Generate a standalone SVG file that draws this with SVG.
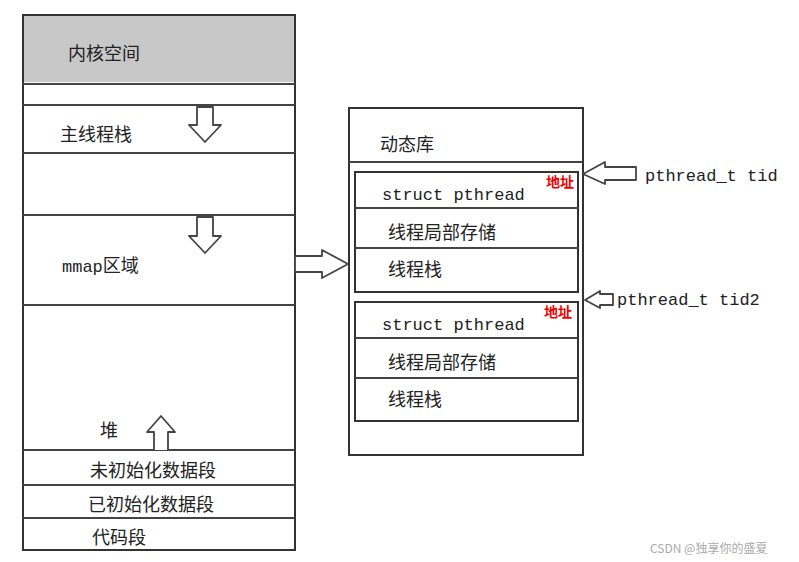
<svg xmlns="http://www.w3.org/2000/svg" width="799" height="562" viewBox="0 0 799 562">
<style>
.b{fill:none;stroke:#333;stroke-width:2}
.l{stroke:#444;stroke-width:2}
.a{fill:#fff;stroke:#444;stroke-width:1.8;stroke-linejoin:round}
.t{font-family:"Noto Sans CJK SC",sans-serif;font-size:18px;fill:#222}
.m{font-family:"Liberation Mono","Noto Sans CJK SC",monospace;font-size:17px;fill:#222}
.r{font-family:"Noto Sans CJK SC",sans-serif;font-size:14px;font-weight:bold;fill:#e00}
.w{font-family:"Noto Sans CJK SC",sans-serif;font-size:12px;fill:#aaa}
</style>
<rect width="799" height="562" fill="#fff"/>
<g id="mem">
<rect x="23" y="15" width="272" height="67" fill="#c8c8c8"/>
<rect x="23" y="15" width="272" height="535" class="b"/>
<line x1="23" y1="84" x2="295" y2="84" class="l"/>
<line x1="23" y1="105" x2="295" y2="105" class="l"/>
<line x1="23" y1="153" x2="295" y2="153" class="l"/>
<line x1="23" y1="215" x2="295" y2="215" class="l"/>
<line x1="23" y1="305" x2="295" y2="305" class="l"/>
<line x1="23" y1="450" x2="295" y2="450" class="l"/>
<line x1="23" y1="485" x2="295" y2="485" class="l"/>
<line x1="23" y1="518" x2="295" y2="518" class="l"/>
<text x="68" y="60" class="t">内核空间</text>
<text x="60" y="141" class="t">主线程栈</text>
<text x="62" y="272" class="m">mmap<tspan class="t">区域</tspan></text>
<text x="100" y="437" class="t">堆</text>
<text x="90" y="477" class="t">未初始化数据段</text>
<text x="88" y="511" class="t">已初始化数据段</text>
<text x="92" y="544" class="t">代码段</text>
</g>
<g id="lib">
<rect x="349" y="108" width="234" height="347" class="b"/>
<line x1="349" y1="162" x2="583" y2="162" class="l"/>
<text x="380" y="151" class="t">动态库</text>
</g>
<g id="thread1">
<rect x="355" y="172" width="223" height="120" class="b"/>
<line x1="355" y1="208" x2="578" y2="208" class="l"/>
<line x1="355" y1="248" x2="578" y2="248" class="l"/>
<text x="382" y="200" class="m">struct pthread</text>
<text x="388" y="239" class="t">线程局部存储</text>
<text x="388" y="276" class="t">线程栈</text>
<text x="546" y="187" class="r">地址</text>
</g>
<g id="thread2">
<rect x="355" y="302" width="223" height="119" class="b"/>
<line x1="355" y1="338" x2="578" y2="338" class="l"/>
<line x1="355" y1="378" x2="578" y2="378" class="l"/>
<text x="382" y="330" class="m">struct pthread</text>
<text x="388" y="369" class="t">线程局部存储</text>
<text x="388" y="406" class="t">线程栈</text>
<text x="544" y="317" class="r">地址</text>
</g>
<text x="645" y="181" class="m">pthread_t tid</text>
<text x="617" y="305" class="m">pthread_t tid2</text>
<text x="650" y="553" class="w">CSDN @独享你的盛夏</text>
<g id="connectors">
<path class="a" d="M197,107 H213 V125 H221 L205,142 L189,125 H197 Z"/>
<path class="a" d="M197,217 H213 V236 H221 L205,253 L189,236 H197 Z"/>
<path class="a" d="M154,450 V432 H147 L161,416 L175,432 H168 V450"/>
<path class="a" d="M295,256 H322 V250 L348,264 L322,278 V272 H295 Z"/>
<path class="a" d="M636,167 H605 V162 L583,174 L605,184 V180 H636 Z"/>
<path class="a" d="M613,294 H600 V291 L585,300 L600,308 V305 H613 Z"/>
</g>
</svg>
